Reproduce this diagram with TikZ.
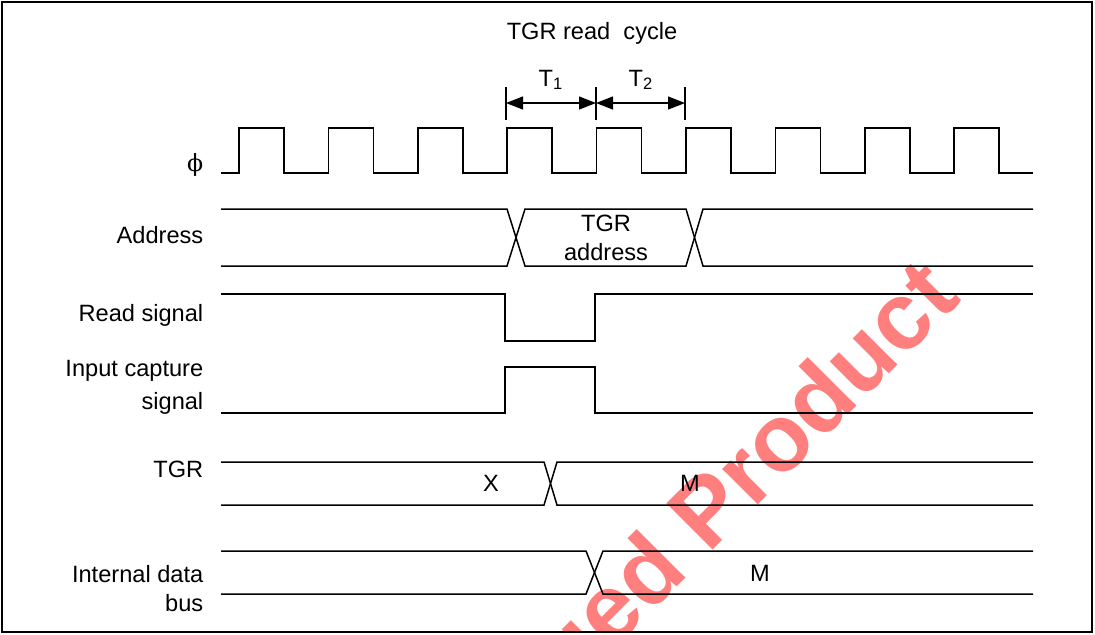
\documentclass[tikz,border=0pt]{standalone}
\usepackage{fontspec}
\setmainfont{Liberation Sans}
\newfontfamily\grk{DejaVu Serif}
\usetikzlibrary{arrows.meta}

\begin{document}
\begin{tikzpicture}[x=.5pt,y=-.5pt,line width=.75pt,
  font=\fontsize{11.8}{14.5}\selectfont,
  lbl/.style={anchor=east,align=right,inner sep=0},
  txt/.style={inner sep=0,align=center},
  dimarrow/.style={{Triangle[length=8.5pt,width=6.5pt]}-{Triangle[length=8.5pt,width=6.5pt]},line width=.6pt}]
\useasboundingbox (0,0) rectangle (1095,634);
\begin{scope}
  \clip (2,2) rectangle (1092,632);
  \node[rotate=45,anchor=base east,inner sep=0,text=red,text opacity=.5,
    font=\fontsize{47.5}{50}\selectfont\bfseries] (wm) at (963,300) {Discontinued Product};
\end{scope}
\draw (2,2) rectangle (1092,632);

\node[txt] (title) at (592,33) {TGR read\ \ cycle};
\node[txt] (T1) at (551,80) {T\textsubscript{1}};
\node[txt] (T2) at (641,80) {T\textsubscript{2}};
\foreach \x [count=\i] in {506,596,685} {
  \coordinate (k\i) at (\x,103);
  \draw (\x,87) -- (\x,120);
}
\draw[dimarrow] (k1) -- (k2);
\draw[dimarrow] (k2) -- (k3);

\node[lbl] (phi) at (204,165) {\grk ϕ};
\draw (221,173) \foreach \k in {0,...,8} {
  -- ({239+89.4*\k},173) -- ({239+89.4*\k},128) -- ({284+89.4*\k},128) -- ({284+89.4*\k},173)
} -- (1033,173);

\node[lbl] (addr) at (204,235) {Address};
\draw (221,209) -- (507,209) -- (525,266) -- (686,266) -- (703,209) -- (1033,209);
\draw (221,266) -- (507,266) -- (525,209) -- (686,209) -- (703,266) -- (1033,266);
\node[txt] (tgra) at (606,238) {TGR\\address};

\node[lbl] (rd) at (204,315) {Read signal};
\draw (221,294) -- (505,294) -- (505,341) -- (595,341) -- (595,294) -- (1033,294);

\node[lbl] (ic) at (204,387) {Input capture\\[2pt]signal};
\draw (221,413) -- (505,413) -- (505,367) -- (595,367) -- (595,413) -- (1033,413);

\node[lbl] (tgr) at (204,469) {TGR};
\draw (221,462) -- (544,462) -- (557,505) -- (1033,505);
\draw (221,505) -- (544,505) -- (557,462) -- (1033,462);
\node[txt] (x) at (491,483) {X};
\node[txt] (m1) at (690,483) {M};

\node[lbl] (idb) at (204,589) {Internal data\\bus};
\draw (221,551) -- (586,551) -- (603,594) -- (1033,594);
\draw (221,594) -- (586,594) -- (603,551) -- (1033,551);
\node[txt] (m2) at (760,573) {M};
\end{tikzpicture}
\end{document}
